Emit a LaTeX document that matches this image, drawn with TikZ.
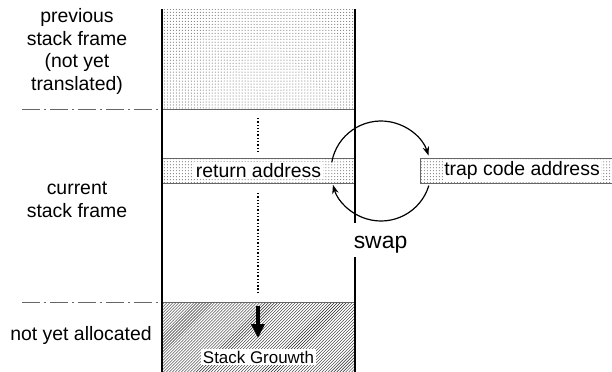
\documentclass[tikz,border=0pt]{standalone}
\usepackage{fontspec}
\setmainfont{Liberation Sans}
\usetikzlibrary{patterns,arrows.meta}

\begin{document}
\begin{tikzpicture}[x=1bp,y=-1bp,
	wall/.style={line width=2.6bp},
	slot/.style={draw=gray!80!black,line width=0.8bp,pattern=dots,pattern color=black!70,minimum height=25bp,inner sep=0pt},
	side/.style={align=center,font=\fontsize{19.5}{23}\selectfont},
	boundary/.style={gray!80!black,line width=0.9bp,dash pattern=on 18bp off 4bp on 2bp off 4bp},
	swaparrow/.style={line width=1.2bp,-{Stealth[length=9bp,width=6.5bp]}}]
	
	\clip (0,0) rectangle (612,371);
	\setlength{\fboxsep}{1.5bp}
	
	% regions of the stack
	\fill[pattern=dots,pattern color=black!70] (162,9) rectangle (355,109);
	\fill[pattern=north east lines,pattern color=black!85] (162,302) rectangle (355,372);
	\draw[gray!80!black,line width=0.9bp] (162,109) -- (355,109);
	\draw[gray!80!black,line width=0.9bp] (162,302) -- (355,302);
	\draw[boundary] (22,109) -- (162,109);
	\draw[boundary] (22,302) -- (162,302);
	
	\node[slot,minimum width=193bp] (ret) at (258.5,170.5) {\colorbox{white}{\fontsize{19.5}{23}\selectfont return address}};
	\node[slot,minimum width=204bp] (trap) at (522,170.5) {\colorbox{white}{\fontsize{19.5}{23}\selectfont trap code address}};
	
	\draw[wall] (162,9) -- (162,372);
	\draw[wall] (355,9) -- (355,372);
	
	\draw[dotted,line width=1.3bp] (258,118) -- (258,151);
	\draw[dotted,line width=1.3bp] (258,193) -- (258,292);
	
	% swap of the two addresses (y runs downwards, so angles are mirrored)
	\coordinate (swapc) at (381,171);
	\draw[swaparrow] (swapc) ++(-170:50) arc[start angle=-170,end angle=-18,radius=50];
	\draw[swaparrow] (swapc) ++(17:50) arc[start angle=17,end angle=164,radius=50];
	\node[fill=white,inner sep=0pt,anchor=base,text height=25bp,text depth=9bp,font=\fontsize{23}{26}\selectfont] (swap) at (380.5,248) {swap};
	
	\node[side] (prev) at (77,51.5) {previous\\stack frame\\(not yet\\translated)};
	\node[side] (cur) at (77,200) {current\\stack frame};
	\node[side] (free) at (81,335) {not yet allocated};
	
	\draw[line width=3.5bp,-{Triangle[width=13bp,length=14bp]}] (258,306) -- (258,338);
	\node[fill=white,inner sep=2bp,font=\fontsize{17}{19}\selectfont] (grow) at (258.5,357) {Stack Grouwth};
	
\end{tikzpicture}
\end{document}
